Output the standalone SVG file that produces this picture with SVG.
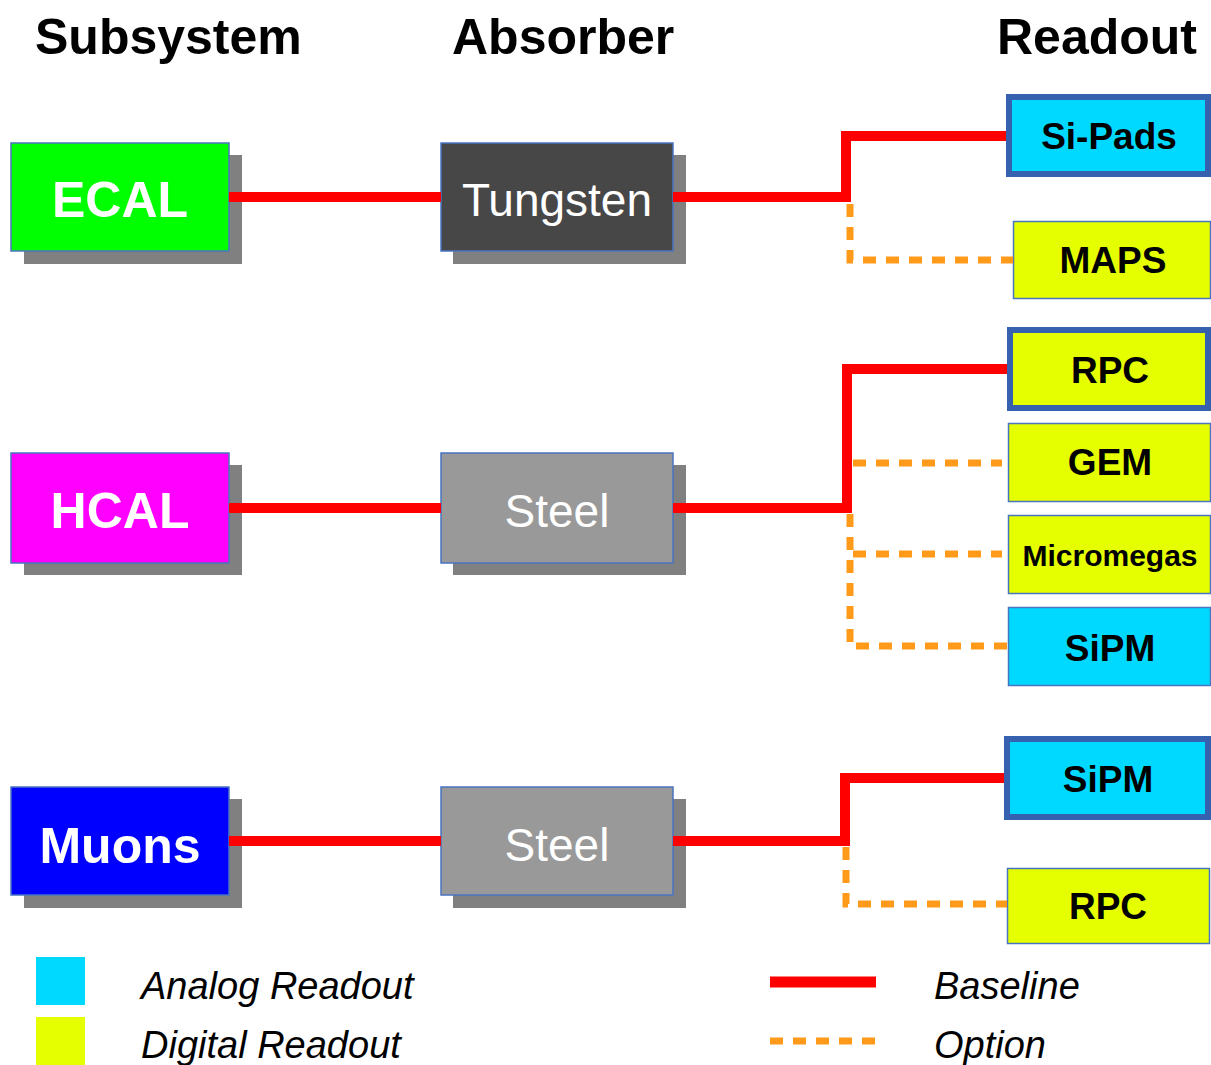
<svg xmlns="http://www.w3.org/2000/svg" width="1211" height="1065" viewBox="0 0 1211 1065">
<style>
.hdr{font-family:"Liberation Sans",Arial,sans-serif;font-weight:bold;font-size:50px;fill:#000}
.sub{font-family:"Liberation Sans",Arial,sans-serif;font-weight:bold;font-size:50px;fill:#fff;text-anchor:middle}
.abs{font-family:"Liberation Sans",Arial,sans-serif;font-size:46px;fill:#fff;text-anchor:middle}
.ro{font-family:"Liberation Sans",Arial,sans-serif;font-weight:bold;font-size:37px;fill:#000;text-anchor:middle}
.lg{font-family:"Liberation Sans",Arial,sans-serif;font-style:italic;font-size:38px;fill:#000}
.shadow{fill:#808080}
.nb{stroke:#4a74c0;stroke-width:1.5}
.thick{stroke:#3561ae;stroke-width:6}
.thin{stroke:#4a74c0;stroke-width:1.5}
.cyan{fill:#00d9ff}
.yel{fill:#e5ff00}
.base{fill:none;stroke:#ff0000;stroke-width:10;stroke-linejoin:miter;stroke-linecap:butt}
.opt{fill:none;stroke:#ff9a1a;stroke-width:7;stroke-dasharray:13 10}
</style>
<rect width="1211" height="1065" fill="#fff"/>
<g id="headers">
<text class="hdr" x="35" y="54">Subsystem</text>
<text class="hdr" x="452" y="54">Absorber</text>
<text class="hdr" x="997" y="54">Readout</text>
</g>
<g id="ecal">
<rect class="shadow" x="24" y="155" width="218" height="109"/>
<rect class="nb" x="11" y="143" width="218" height="108" fill="#00ff00"/>
<text class="sub" x="120" y="217">ECAL</text>
</g>
<g id="tungsten">
<rect class="shadow" x="453" y="155" width="233" height="109"/>
<rect class="nb" x="441" y="143" width="232" height="108" fill="#474747"/>
<text class="abs" x="557" y="216">Tungsten</text>
</g>
<g id="hcal">
<rect class="shadow" x="24" y="465" width="218" height="110"/>
<rect class="nb" x="11" y="453" width="218" height="110" fill="#ff00ff"/>
<text class="sub" x="120" y="528">HCAL</text>
</g>
<g id="steel1">
<rect class="shadow" x="453" y="465" width="233" height="110"/>
<rect class="nb" x="441" y="453" width="232" height="110" fill="#999999"/>
<text class="abs" x="557" y="527">Steel</text>
</g>
<g id="muons">
<rect class="shadow" x="24" y="799" width="218" height="109"/>
<rect class="nb" x="11" y="787" width="218" height="108" fill="#0000ff"/>
<text class="sub" x="120" y="863">Muons</text>
</g>
<g id="steel2">
<rect class="shadow" x="453" y="799" width="233" height="109"/>
<rect class="nb" x="441" y="787" width="232" height="108" fill="#999999"/>
<text class="abs" x="557" y="861">Steel</text>
</g>
<g id="sipads">
<rect class="cyan thick" x="1009" y="97" width="199" height="77"/>
<text class="ro" x="1109" y="149">Si-Pads</text>
</g>
<g id="maps">
<rect class="yel thin" x="1013.5" y="221.5" width="197" height="77"/>
<text class="ro" x="1113" y="273">MAPS</text>
</g>
<g id="rpc1">
<rect class="yel thick" x="1010" y="330" width="198" height="78"/>
<text class="ro" x="1110" y="383">RPC</text>
</g>
<g id="gem">
<rect class="yel thin" x="1008.5" y="423.5" width="202" height="78"/>
<text class="ro" x="1110" y="475">GEM</text>
</g>
<g id="micromegas">
<rect class="yel thin" x="1008.5" y="515.5" width="202" height="78"/>
<text class="ro" x="1110" y="566" style="font-size:30px">Micromegas</text>
</g>
<g id="sipm1">
<rect class="cyan thin" x="1008.5" y="607.5" width="202" height="78"/>
<text class="ro" x="1110" y="661">SiPM</text>
</g>
<g id="sipm2">
<rect class="cyan thick" x="1007" y="739" width="201" height="78"/>
<text class="ro" x="1108" y="792">SiPM</text>
</g>
<g id="rpc2">
<rect class="yel thin" x="1007.5" y="868.5" width="202" height="75"/>
<text class="ro" x="1108" y="919">RPC</text>
</g>
<g id="connectors">
<line class="base" x1="229" y1="197" x2="441" y2="197"/>
<polyline class="base" points="673,197 846,197 846,136 1006,136"/>
<polyline class="opt" points="850,204 850,260 1013,260"/>
<line class="base" x1="229" y1="508" x2="441" y2="508"/>
<polyline class="base" points="673,508 847,508 847,369 1007,369"/>
<line class="opt" x1="853" y1="463" x2="1002" y2="463"/>
<polyline class="opt" points="850,514 850,646 1008,646"/>
<line class="opt" x1="853" y1="554" x2="1002" y2="554"/>
<line class="base" x1="229" y1="841" x2="441" y2="841"/>
<polyline class="base" points="673,841 845,841 845,778 1004,778"/>
<polyline class="opt" points="846,847 846,904 1007,904"/>
</g>
<g id="legend">
<rect class="cyan" x="36" y="957" width="49" height="48"/>
<rect class="yel" x="36" y="1017" width="49" height="48"/>
<text class="lg" x="141" y="999">Analog Readout</text>
<text class="lg" x="141" y="1058">Digital Readout</text>
<line x1="770" y1="982" x2="876" y2="982" stroke="#ff0000" stroke-width="11"/>
<line x1="770" y1="1041" x2="876" y2="1041" stroke="#ff9a1a" stroke-width="7" stroke-dasharray="13 10"/>
<text class="lg" x="934" y="999">Baseline</text>
<text class="lg" x="934" y="1058">Option</text>
</g>
</svg>
